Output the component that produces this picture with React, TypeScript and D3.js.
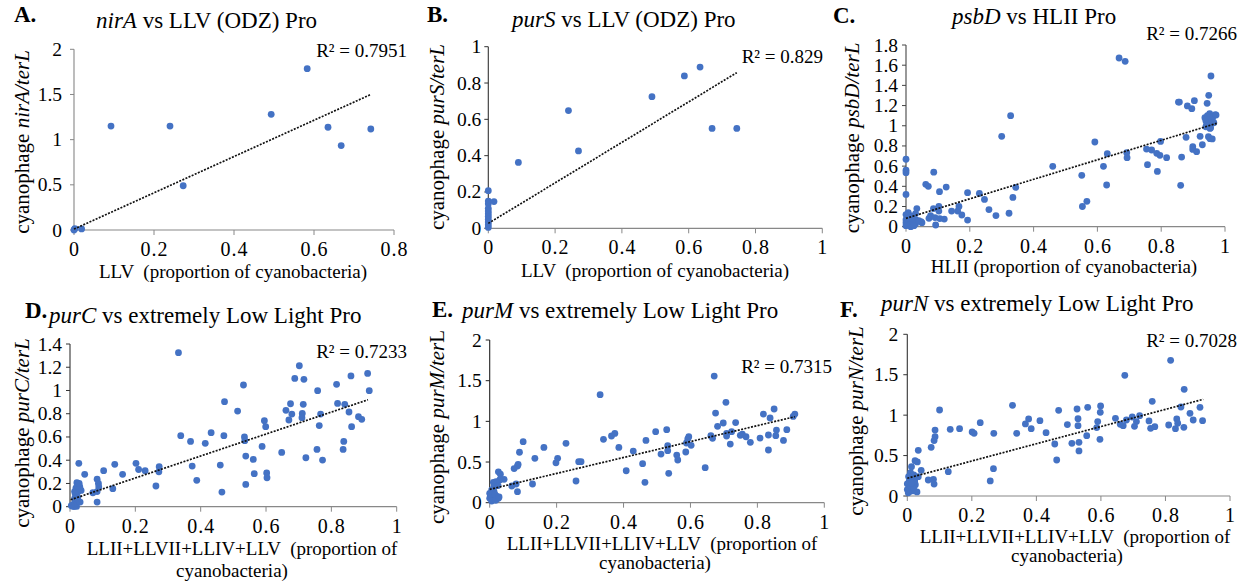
import React from 'react';
import * as d3 from 'd3';

type Pt = [number, number];

// ---------- data (x = proportion of cyanobacteria, y = gene/terL ratio) ----------
const nirAPoints: Pt[] = [
  [0, 0.0], [0.002, 0.015], [0.019, 0.012], [0.0925, 1.15], [0.24, 1.15], [0.273, 0.49],
  [0.493, 1.28], [0.583, 1.786], [0.635, 1.137], [0.668, 0.934], [0.742, 1.118],
];
const nirATrend: Pt[] = [[0, 0.01], [0.742, 1.5]];

const purSPoints: Pt[] = [
  [0, 0.207], [0, 0.15], [0, 0.135], [0.017, 0.147], [0, 0.11], [0, 0.095], [0, 0.08],
  [0, 0.065], [0, 0.05], [0, 0.035], [0, 0.02], [0, 0.005], [0.09, 0.363], [0.24, 0.648],
  [0.27, 0.426], [0.49, 0.725], [0.587, 0.839], [0.634, 0.888], [0.67, 0.55], [0.744, 0.55],
];
const purSTrend: Pt[] = [[0, 0.027], [0.744, 0.857]];

const psbDPoints: Pt[] = [
  [0, 0.668], [0, 0.56], [0, 0.535], [0, 0.32], [0.087, 0.54], [0.062, 0.42], [0.07, 0.4],
  [0.105, 0.347], [0.126, 0.393], [0.193, 0.337], [0.23, 0.33], [0.246, 0.27], [0.26, 0.17],
  [0.282, 0.11], [0.193, 0.066], [0.034, 0.18], [0.007, 0.14], [0, 0.12], [0.016, 0.106],
  [0.03, 0.13], [0.03, 0.07], [0.047, 0.05], [0.05, 0.04], [0.072, 0.083], [0.077, 0.11],
  [0.086, 0.18], [0.091, 0.09], [0.103, 0.2], [0.103, 0.155], [0.106, 0.08], [0.12, 0.076],
  [0.093, 0.017], [0.143, 0.155], [0.162, 0.155], [0.166, 0.2], [0.175, 0.116], [0.01, 0.05],
  [0, 0.07], [0, 0.04], [0, 0.01], [0.005, 0.085], [0.02, 0.08], [0.013, 0.02], [0.03, 0.03],
  [0.04, 0.06], [0.015, 0.0], [0.025, 0.01],
  [0.3, 0.895], [0.328, 1.1], [0.323, 0.133], [0.335, 0.29], [0.344, 0.39],
  [0.46, 0.598], [0.551, 0.509], [0.553, 0.2], [0.567, 0.251], [0.592, 0.839], [0.619, 0.598],
  [0.629, 0.413], [0.631, 0.723], [0.668, 1.671], [0.687, 1.638], [0.692, 0.733], [0.693, 0.684],
  [0.754, 0.769], [0.757, 0.614], [0.77, 0.76], [0.786, 0.727], [0.788, 0.548], [0.796, 0.707],
  [0.798, 0.845], [0.817, 0.684], [0.854, 1.235], [0.857, 1.235], [0.861, 0.41], [0.864, 0.69],
  [0.878, 0.885], [0.882, 1.196], [0.896, 1.169], [0.899, 0.793], [0.899, 0.766], [0.904, 1.248],
  [0.911, 0.743], [0.922, 0.895], [0.929, 0.812], [0.944, 1.222], [0.949, 1.301], [0.956, 1.493],
  [0.948, 0.892], [0.953, 0.872], [0.953, 0.974], [0.937, 1.08], [0.94, 1.05], [0.943, 1.02],
  [0.945, 1.1], [0.948, 1.06], [0.95, 1.0], [0.952, 1.12], [0.955, 1.08], [0.958, 1.04],
  [0.96, 1.06], [0.962, 1.09], [0.965, 1.03], [0.97, 1.11], [0.94, 0.99], [0.955, 0.98],
  [0.96, 0.87], [0.972, 1.106],
];
const psbDTrend: Pt[] = [[0, 0.083], [0.974, 1.024]];

const purCPoints: Pt[] = [
  [0.332, 1.325], [0.702, 1.213], [0.911, 1.147], [0.531, 1.047], [0.688, 1.104], [0.716, 1.096],
  [0.86, 1.125], [0.816, 1.053], [0.758, 0.998], [0.916, 0.998], [0.473, 0.904], [0.513, 0.823],
  [0.675, 0.886], [0.714, 0.881], [0.819, 0.889], [0.841, 0.881], [0.661, 0.829], [0.679, 0.797],
  [0.711, 0.803], [0.767, 0.797], [0.71, 0.766], [0.67, 0.746], [0.854, 0.815], [0.883, 0.775],
  [0.893, 0.752], [0.595, 0.74], [0.599, 0.689], [0.763, 0.698], [0.862, 0.689], [0.339, 0.611],
  [0.432, 0.637], [0.471, 0.611], [0.369, 0.562], [0.414, 0.545], [0.534, 0.6], [0.535, 0.568],
  [0.588, 0.519], [0.648, 0.467], [0.756, 0.493], [0.838, 0.562], [0.836, 0.493], [0.722, 0.421],
  [0.773, 0.401], [0.538, 0.436], [0.561, 0.407], [0.374, 0.35], [0.46, 0.358], [0.564, 0.284],
  [0.602, 0.29], [0.603, 0.249], [0.538, 0.192], [0.388, 0.227], [0.465, 0.126],
  [0.027, 0.373], [0.045, 0.279], [0.103, 0.31], [0.137, 0.365], [0.161, 0.279], [0.202, 0.373],
  [0.21, 0.32], [0.23, 0.31], [0.273, 0.344], [0.272, 0.3], [0.263, 0.178], [0.131, 0.155],
  [0.083, 0.236], [0.087, 0.2], [0.088, 0.17], [0.083, 0.13], [0.07, 0.12], [0.083, 0.04],
  [0.021, 0.207], [0.026, 0.19], [0.03, 0.17], [0.018, 0.16], [0.034, 0.14], [0.014, 0.13],
  [0.025, 0.13], [0.02, 0.1], [0.014, 0.07], [0.021, 0.055], [0.016, 0.04], [0.01, 0.01],
  [0.007, 0.005], [0.02, 0.002], [0.012, 0.0], [0.031, 0.04], [0.03, 0.15], [0.022, 0.18],
  [0.028, 0.2], [0.016, 0.11], [0.024, 0.08], [0.01, 0.02], [0.004, 0.01],
];
const purCTrend: Pt[] = [[0.002, 0.06], [0.912, 0.92]];

const purMPoints: Pt[] = [
  [0.671, 1.557], [0.33, 1.328], [0.706, 1.234], [0.675, 1.102], [0.85, 1.152], [0.818, 1.09],
  [0.838, 1.041], [0.912, 1.09], [0.907, 1.061], [0.698, 0.98], [0.681, 0.939], [0.735, 0.985],
  [0.708, 0.853], [0.708, 0.82], [0.723, 0.873], [0.749, 0.828], [0.755, 0.844], [0.766, 0.811],
  [0.779, 0.742], [0.808, 0.795], [0.833, 0.832], [0.857, 0.893], [0.855, 0.824], [0.888, 0.898],
  [0.878, 0.766], [0.833, 0.648], [0.719, 0.721], [0.661, 0.824], [0.666, 0.791], [0.595, 0.811],
  [0.592, 0.783], [0.588, 0.734], [0.602, 0.705], [0.586, 0.623], [0.644, 0.43], [0.529, 0.898],
  [0.532, 0.701], [0.532, 0.639], [0.535, 0.361], [0.496, 0.873], [0.467, 0.766], [0.512, 0.598],
  [0.559, 0.586], [0.562, 0.525], [0.429, 0.635], [0.457, 0.48], [0.464, 0.25], [0.408, 0.393],
  [0.34, 0.779], [0.364, 0.82], [0.374, 0.852], [0.386, 0.68],
  [0.1, 0.75], [0.162, 0.68], [0.228, 0.73], [0.089, 0.62], [0.135, 0.546], [0.203, 0.546],
  [0.198, 0.49], [0.266, 0.504], [0.273, 0.504], [0.258, 0.267], [0.128, 0.23], [0.083, 0.451],
  [0.085, 0.47], [0.073, 0.42], [0.083, 0.135], [0.066, 0.205], [0.079, 0.23], [0.026, 0.38],
  [0.032, 0.35], [0.043, 0.287], [0.03, 0.28], [0.019, 0.258], [0.011, 0.25], [0.013, 0.2],
  [0.025, 0.21], [0.006, 0.156], [0.013, 0.135], [0, 0.115], [0.002, 0.082], [0.012, 0.066],
  [0.02, 0.08], [0.026, 0.054], [0.008, 0.045], [0, 0.054], [0.004, 0.1], [0.016, 0.1],
  [0.006, 0.02], [0.018, 0.03], [0.028, 0.07],
];
const purMTrend: Pt[] = [[0, 0.164], [0.912, 1.057]];

const purNPoints: Pt[] = [
  [0.816, 1.678], [0.674, 1.493], [0.858, 1.32], [0.759, 1.171], [0.326, 1.122], [0.1, 1.064],
  [0.469, 1.06], [0.526, 1.076], [0.559, 1.097], [0.599, 1.113], [0.598, 1.035], [0.848, 1.101],
  [0.907, 1.097], [0.645, 0.961], [0.697, 0.977], [0.72, 0.993], [0.679, 0.94], [0.71, 0.92],
  [0.704, 0.862], [0.66, 0.887], [0.669, 0.87], [0.749, 0.928], [0.754, 0.837], [0.767, 0.858],
  [0.81, 0.878], [0.835, 0.953], [0.838, 0.9], [0.831, 0.833], [0.857, 0.849], [0.876, 1.023],
  [0.886, 0.94], [0.915, 0.932], [0.59, 0.92], [0.587, 0.846], [0.597, 0.701], [0.556, 0.746],
  [0.529, 0.957], [0.529, 0.87], [0.532, 0.664], [0.532, 0.557], [0.51, 0.652], [0.496, 0.883],
  [0.457, 0.643], [0.463, 0.445], [0.43, 0.783], [0.411, 0.932], [0.376, 0.953], [0.366, 0.891],
  [0.384, 0.833], [0.339, 0.775], [0.267, 0.338], [0.268, 0.775], [0.257, 0.186], [0.226, 0.907],
  [0.201, 0.792], [0.207, 0.775], [0.162, 0.833], [0.133, 0.825], [0.127, 0.301], [0.086, 0.816],
  [0.086, 0.734], [0.083, 0.685], [0.074, 0.602], [0.081, 0.206], [0.083, 0.148], [0.065, 0.198],
  [0.043, 0.318], [0.034, 0.565], [0.034, 0.239], [0.031, 0.421], [0.024, 0.437], [0.013, 0.363],
  [0.01, 0.289], [0.02, 0.26], [0.004, 0.24], [0.017, 0.22], [0.023, 0.19], [0.006, 0.185],
  [0, 0.15], [0.015, 0.135], [0.025, 0.14], [0.006, 0.1], [0.017, 0.09], [0, 0.08], [0.01, 0.06],
  [0.02, 0.065], [0.03, 0.05], [0.01, 0.12], [0.02, 0.11], [0.003, 0.04], [0.013, 0.16],
];
const purNTrend: Pt[] = [[0, 0.22], [0.917, 1.196]];

const xTicks08 = [0, 0.2, 0.4, 0.6, 0.8];
const xTicks1 = [0, 0.2, 0.4, 0.6, 0.8, 1];
const yTicks2 = [0, 0.5, 1, 1.5, 2];
const yTicks1 = [0, 0.2, 0.4, 0.6, 0.8, 1];
const yTicks18 = [0, 0.2, 0.4, 0.6, 0.8, 1, 1.2, 1.4, 1.6, 1.8];
const yTicks14 = [0, 0.2, 0.4, 0.6, 0.8, 1, 1.2, 1.4];
const r2Labels = ['R² = 0.7951', 'R² = 0.829', 'R² = 0.7266', 'R² = 0.7233', 'R² = 0.7315', 'R² = 0.7028'];

type Part = { t: string; i?: boolean };

const FONT = '"Liberation Serif", Tinos, "Times New Roman", "DejaVu Serif", serif';
const DOT = '#4472C4';

const xTitleLLV = ['LLV  (proportion of cyanobacteria)'];
const xTitleLL = ['LLII+LLVII+LLIV+LLV  (proportion of', 'cyanobacteria)'];

const panels = [
  {
    letter: 'A.', lx: 14, ly: 22, title: [{ t: 'nirA', i: true }, { t: ' vs LLV (ODZ) Pro' }] as Part[], tx: 96, ty: 28,
    left: 74, right: 394, top: 49.3, bottom: 230, xMax: 0.8, yMax: 2, xTicks: xTicks08, yTicks: yTicks2,
    pts: nirAPoints, trend: nirATrend, r2: r2Labels[0], rx: 407, ry: 57, ygap: 12,
    ytitle: [{ t: 'cyanophage ' }, { t: 'nirA/terL', i: true }] as Part[], ytx: 29, yty: 142,
    xtitle: xTitleLLV, xtx: [233], xty: [278], yAxisColor: '#868686',
  },
  {
    letter: 'B.', lx: 427, ly: 22, title: [{ t: 'purS', i: true }, { t: ' vs LLV (ODZ) Pro' }] as Part[], tx: 512, ty: 27,
    left: 488.3, right: 822.3, top: 46.7, bottom: 228.3, xMax: 1, yMax: 1, xTicks: xTicks1, yTicks: yTicks1,
    pts: purSPoints, trend: purSTrend, r2: r2Labels[1], rx: 823, ry: 63, ygap: 7,
    ytitle: [{ t: 'cyanophage ' }, { t: 'purS/terL', i: true }] as Part[], ytx: 444, yty: 137,
    xtitle: xTitleLLV, xtx: [655], xty: [277], yAxisColor: '#333',
  },
  {
    letter: 'C.', lx: 833, ly: 23, title: [{ t: 'psbD', i: true }, { t: ' vs HLII Pro' }] as Part[], tx: 952, ty: 24,
    left: 906, right: 1225, top: 45, bottom: 226.7, xMax: 1, yMax: 1.8, xTicks: xTicks1, yTicks: yTicks18,
    pts: psbDPoints, trend: psbDTrend, r2: r2Labels[2], rx: 1237, ry: 40, ygap: 8,
    ytitle: [{ t: 'cyanophage ' }, { t: 'psbD/terL', i: true }] as Part[], ytx: 859, yty: 138,
    xtitle: ['HLII (proportion of cyanobacteria)'], xtx: [1064], xty: [273], yAxisColor: '#444',
  },
  {
    letter: 'D.', lx: 25, ly: 318, title: [{ t: 'purC', i: true }, { t: ' vs extremely Low Light Pro' }] as Part[], tx: 49, ty: 323,
    left: 70, right: 396.7, top: 344, bottom: 506.7, xMax: 1, yMax: 1.4, xTicks: xTicks1, yTicks: yTicks14,
    pts: purCPoints, trend: purCTrend, r2: r2Labels[3], rx: 407, ry: 358, ygap: 8,
    ytitle: [{ t: 'cyanophage ' }, { t: 'purC/terL', i: true }] as Part[], ytx: 29, yty: 433,
    xtitle: xTitleLL, xtx: [242, 232], xty: [555, 577], yAxisColor: '#333',
  },
  {
    letter: 'E.', lx: 432, ly: 317, title: [{ t: 'purM', i: true }, { t: ' vs extremely Low Light Pro' }] as Part[], tx: 462, ty: 318,
    left: 489.7, right: 824.3, top: 340, bottom: 502.7, xMax: 1, yMax: 2, xTicks: xTicks1, yTicks: yTicks2,
    pts: purMPoints, trend: purMTrend, r2: r2Labels[4], rx: 832, ry: 373, ygap: 8,
    ytitle: [{ t: 'cyanophage ' }, { t: 'purM/ter', i: true }, { t: 'L' }] as Part[], ytx: 444, yty: 427,
    xtitle: xTitleLL, xtx: [662, 655], xty: [550, 569], yAxisColor: '#222',
  },
  {
    letter: 'F.', lx: 840, ly: 317, title: [{ t: 'purN', i: true }, { t: ' vs extremely Low Light Pro' }] as Part[], tx: 881, ty: 311,
    left: 907.3, right: 1230, top: 334.3, bottom: 496, xMax: 1, yMax: 2, xTicks: xTicks1, yTicks: yTicks2,
    pts: purNPoints, trend: purNTrend, r2: r2Labels[5], rx: 1237, ry: 347, ygap: 9,
    ytitle: [{ t: 'cyanophage ' }, { t: 'purN/terL', i: true }] as Part[], ytx: 863, yty: 421,
    xtitle: xTitleLL, xtx: [1075, 1067], xty: [543, 562], yAxisColor: '#333',
  },
];

const fmt = (v: number) => String(+v.toFixed(1));
const tStyle = (size: number, extra: React.CSSProperties = {}): React.CSSProperties => ({
  fontFamily: FONT,
  fontSize: size,
  ...extra,
});

function Panel({ p }: { p: typeof panels[number] }) {
  const xs = d3.scaleLinear().domain([0, p.xMax]).range([p.left, p.right]);
  const ys = d3.scaleLinear().domain([0, p.yMax]).range([p.bottom, p.top]);
  const line = d3.line<Pt>().x((d) => xs(d[0])).y((d) => ys(d[1]));
  return (
    <g fill="#000">
      <text x={p.lx} y={p.ly} style={tStyle(23, { fontWeight: 'bold' })}>{p.letter}</text>
      <text x={p.tx} y={p.ty} textAnchor="start" style={tStyle(23)}>
        {p.title.map((s, i) => (
          <tspan key={i} style={{ fontStyle: s.i ? 'italic' : 'normal' }}>{s.t}</tspan>
        ))}
      </text>
      <line x1={p.left} x2={p.right} y1={p.bottom} y2={p.bottom} stroke="#888" strokeWidth={1.2} />
      <line x1={p.left} x2={p.left} y1={p.top} y2={p.bottom} stroke={p.yAxisColor} strokeWidth={1.1} />
      {p.xTicks.map((v) => (
        <g key={'x' + v}>
          <line x1={xs(v)} x2={xs(v)} y1={p.bottom} y2={p.bottom + 5} stroke="#888" strokeWidth={1} />
          <text x={xs(v) + 0.5} y={p.bottom + 26} textAnchor="middle" style={tStyle(20, { letterSpacing: '1px' })}>{fmt(v)}</text>
        </g>
      ))}
      {p.yTicks.map((v) => (
        <g key={'y' + v}>
          <line x1={p.left - 4} x2={p.left} y1={ys(v)} y2={ys(v)} stroke={p.yAxisColor} strokeWidth={1} />
          <text x={p.left - p.ygap} y={ys(v) + 6.5} textAnchor="end" style={tStyle(19.5)}>{fmt(v)}</text>
        </g>
      ))}
      {p.pts.map((d, i) => (
        <circle key={i} cx={xs(d[0])} cy={ys(d[1])} r={3.4} fill={DOT} />
      ))}
      <path d={line(p.trend) || ''} fill="none" stroke="#111" strokeWidth={1.7} strokeDasharray="2 1.4" />
      <text x={p.rx} y={p.ry} textAnchor="end" style={tStyle(19)}>{p.r2}</text>
      <text transform={`translate(${p.ytx},${p.yty}) rotate(-90)`} textAnchor="middle" style={tStyle(21)}>
        {p.ytitle.map((s, i) => (
          <tspan key={i} style={{ fontStyle: s.i ? 'italic' : 'normal' }}>{s.t}</tspan>
        ))}
      </text>
      {p.xtitle.map((t, i) => (
        <text key={i} x={p.xtx[i]} y={p.xty[i]} textAnchor="middle" style={tStyle(19, { whiteSpace: 'pre' })}>{t}</text>
      ))}
    </g>
  );
}

export default function App() {
  return (
    <svg width={1252} height={583} style={{ position: 'absolute', left: 0, top: 0, background: '#fff' }}>
      <rect width={1252} height={583} fill="#fff" />
      {panels.map((p, i) => (
        <Panel key={i} p={p} />
      ))}
    </svg>
  );
}
